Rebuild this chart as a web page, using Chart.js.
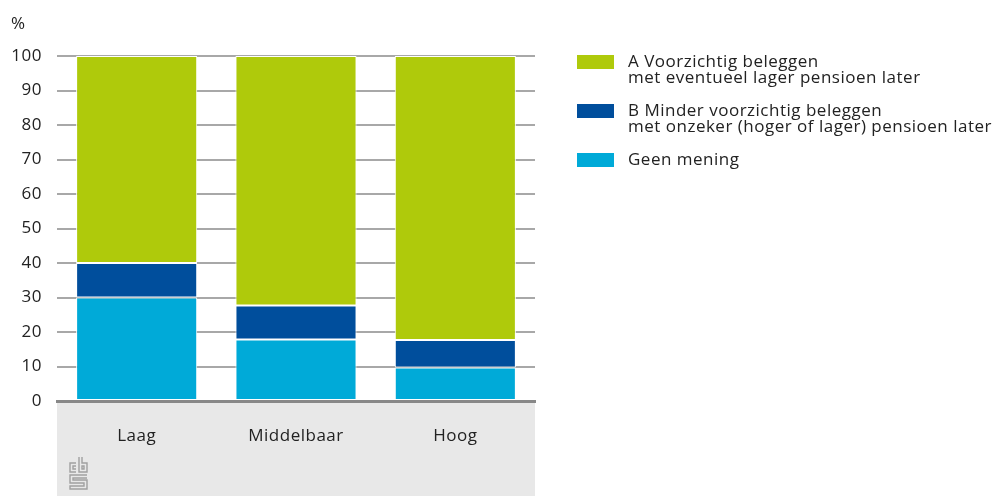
<!DOCTYPE html>
<html>
<head>
<meta charset="utf-8">
<script src="https://cdn.jsdelivr.net/npm/chart.js@4/dist/chart.umd.min.js"></script>
<style>
  html, body { margin: 0; padding: 0; background: #fff; }
  #wrap { width: 998px; height: 496px; position: relative; }
</style>
</head>
<body>
<div id="wrap"><canvas id="grafiek"></canvas></div>
<script>
const categories = ['Laag', 'Middelbaar', 'Hoog']
const geenMening = [30, 17.8, 9.7]
const minderVoorzichtig = [10, 9.9, 8.0]
const voorzichtig = [60, 72.3, 82.3]
const yTicks = [0, 10, 20, 30, 40, 50, 60, 70, 80, 90, 100]

const legendItems = [
    { lines: ['A Voorzichtig beleggen', 'met eventueel lager pensioen later'], color: '#afca0b' },
    { lines: ['B Minder voorzichtig beleggen', 'met onzeker (hoger of lager) pensioen later'], color: '#004e9c' },
    { lines: ['Geen mening'], color: '#00aad8' },
]

const font = "'Open Sans', 'Noto Sans', sans-serif"

// the original font runs a bit wider, so open the letters up
const spacing = {
    id: 'spacing',
    beforeUpdate(chart) { chart.ctx.letterSpacing = '0.5px' },
    beforeDraw(chart) { chart.ctx.letterSpacing = '0.5px' },
}

// gray strip under the x axis + unit label + logo
const bottomStrip = {
    id: 'bottomStrip',
    beforeDraw(chart) {
        const { ctx, chartArea } = chart
        ctx.save()
        ctx.fillStyle = '#e8e8e8'
        ctx.fillRect(chartArea.left, chartArea.bottom, chartArea.right - chartArea.left, chart.height - chartArea.bottom)
        ctx.restore()
    },
    afterDraw(chart) {
        const { ctx } = chart
        ctx.save()
        ctx.fillStyle = '#222'
        ctx.font = '17px ' + font
        ctx.textBaseline = 'middle'
        ctx.fillText('%', 11, 24)

        // cbs logo, rough
        ctx.strokeStyle = '#a0a0a0'
        ctx.lineWidth = 1.4
        ctx.beginPath()
        // c
        ctx.moveTo(76, 463); ctx.lineTo(70, 463); ctx.lineTo(70, 472); ctx.lineTo(76, 472)
        ctx.moveTo(76, 466); ctx.lineTo(73, 466); ctx.lineTo(73, 469); ctx.lineTo(76, 469)
        // b
        ctx.moveTo(79, 457); ctx.lineTo(79, 472); ctx.lineTo(87, 472); ctx.lineTo(87, 463); ctx.lineTo(82, 463); ctx.lineTo(82, 457)
        ctx.rect(82, 466, 2, 3)
        // s
        ctx.moveTo(87, 475); ctx.lineTo(70, 475); ctx.lineTo(70, 483); ctx.lineTo(84, 483); ctx.lineTo(84, 486); ctx.lineTo(70, 486); ctx.lineTo(70, 489); ctx.lineTo(87, 489)
        ctx.lineTo(87, 480); ctx.lineTo(73, 480); ctx.lineTo(73, 478); ctx.lineTo(87, 478)
        ctx.stroke()
        ctx.restore()
    }
}

const sideLegend = {
    id: 'sideLegend',
    afterDraw(chart) {
        const { ctx } = chart
        ctx.save()
        ctx.font = '17px ' + font
        ctx.textBaseline = 'middle'
        let y = 62
        legendItems.forEach((item) => {
            ctx.fillStyle = item.color
            ctx.fillRect(577, y - 7, 37, 14)
            ctx.fillStyle = '#222'
            item.lines.forEach((line, i) => {
                ctx.fillText(line, 628, y + i * 16)
            })
            y += item.lines.length * 16 + 17
        })
        ctx.restore()
    }
}

new Chart(document.getElementById('grafiek'), {
    type: 'bar',
    data: {
        labels: categories,
        datasets: [
            { label: 'Geen mening', data: geenMening, backgroundColor: legendItems[2].color },
            { label: 'B Minder voorzichtig beleggen', data: minderVoorzichtig, backgroundColor: legendItems[1].color },
            { label: 'A Voorzichtig beleggen', data: voorzichtig, backgroundColor: legendItems[0].color },
        ].map((d) => Object.assign(d, {
            borderColor: '#ffffff',
            borderWidth: 1,
            borderSkipped: false,
            categoryPercentage: 1,
            barPercentage: 0.76,
        }))
    },
    options: {
        responsive: true,
        maintainAspectRatio: false,
        animation: false,
        layout: { padding: { top: 56, right: 463, left: 0, bottom: 0 } },
        plugins: {
            legend: { display: false },
            tooltip: { enabled: false },
        },
        scales: {
            x: {
                stacked: true,
                grid: { display: false },
                border: { display: true, color: '#888888', width: 3 },
                ticks: { color: '#222', font: { family: font, size: 17 }, padding: 17 },
                afterFit(scale) { scale.height = 95 },
            },
            y: {
                stacked: true,
                min: 0,
                max: 100,
                afterBuildTicks(scale) { scale.ticks = yTicks.map((v) => ({ value: v })) },
                grid: { color: '#a8a8a8', lineWidth: 2, drawTicks: false },
                border: { display: false },
                ticks: { color: '#222', font: { family: font, size: 17 }, padding: 15 },
                afterFit(scale) { scale.width = 57 },
            }
        }
    },
    plugins: [spacing, bottomStrip, sideLegend]
});
</script>
</body>
</html>
